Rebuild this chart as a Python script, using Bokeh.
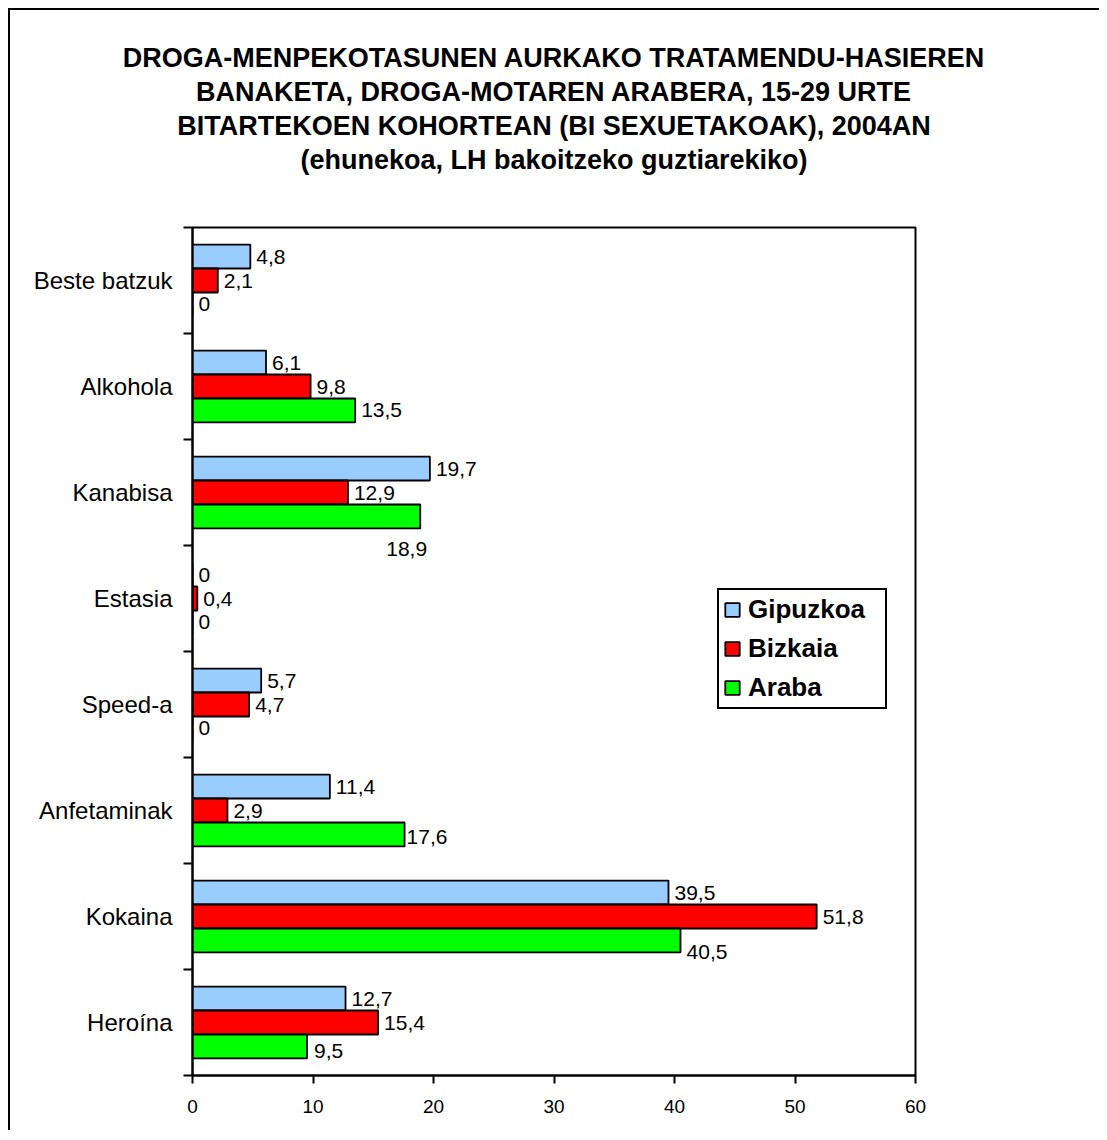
from bokeh.plotting import figure
from bokeh.models import (Range1d, FixedTicker, LinearAxis, Legend, LegendItem,
                          ColumnDataSource, Title)
from bokeh.core.properties import value
from bokeh.embed import file_html
from bokeh.resources import INLINE

# ---------------- data ----------------
categories = ["Beste batzuk", "Alkohola", "Kanabisa", "Estasia",
              "Speed-a", "Anfetaminak", "Kokaina", "Heroína"]
series = ["Gipuzkoa", "Bizkaia", "Araba"]
gipuzkoa = [4.8, 6.1, 19.7, 0, 5.7, 11.4, 39.5, 12.7]
bizkaia = [2.1, 9.8, 12.9, 0.4, 4.7, 2.9, 51.8, 15.4]
araba = [0, 13.5, 18.9, 0, 0, 17.6, 40.5, 9.5]
x_ticks = [0, 10, 20, 30, 40, 50, 60]
title_lines = [
    "DROGA-MENPEKOTASUNEN AURKAKO TRATAMENDU-HASIEREN",
    "BANAKETA, DROGA-MOTAREN ARABERA, 15-29 URTE",
    "BITARTEKOEN KOHORTEAN (BI SEXUETAKOAK), 2004AN",
    "(ehunekoa, LH bakoitzeko guztiarekiko)",
]

# ---------------- styles ----------------
colors = {"Gipuzkoa": "#99CCFF", "Bizkaia": "#FF0000", "Araba": "#00FF00"}
bar_h = 0.226
slot = {"Gipuzkoa": 1, "Bizkaia": 0, "Araba": -1}
label_shift = {("Kanabisa", "Araba"): (-34, 33),
               ("Kokaina", "Araba"): (6, 12),
               ("Heroína", "Araba"): (7, 5),
               ("Anfetaminak", "Araba"): (2, 3)}
FONT = "Liberation Sans"

n = len(categories)
centers = [n - i - 0.5 for i in range(n)]

p = figure(width=1089, height=1122, output_backend="svg", toolbar_location=None,
           x_range=Range1d(0, 60), y_range=Range1d(0, n),
           frame_width=723, frame_height=848,
           min_border_left=182, min_border_top=217, min_border_right=184,
           min_border_bottom=55, x_axis_type=None, y_axis_type=None,
           background_fill_color="white", border_fill_color="white",
           styles={"border-left": "2px solid #000", "border-top": "2px solid #000",
                   "margin-left": "8px", "margin-top": "8px"})
p.outline_line_color = "black"
p.outline_line_width = 2

# spacer between the plot area and the title block
p.add_layout(Title(text=" ", text_font=FONT, text_font_size="27px",
                   standoff=20), "above")
# title: one centred Title per line, nearest line added first
for line in reversed(title_lines):
    t = Title(text=line, align="center", text_font=FONT, text_font_size="27px",
              text_font_style="bold", text_color="black", standoff=2)
    p.add_layout(t, "above")

# x axis
xa = LinearAxis(ticker=FixedTicker(ticks=x_ticks))
xa.axis_line_width = 2
xa.axis_line_color = "black"
xa.major_tick_out = 8
xa.major_tick_in = 0
xa.major_tick_line_width = 2
xa.major_tick_line_color = "black"
xa.minor_tick_line_color = None
xa.major_label_text_font = FONT
xa.major_label_text_font_size = "19px"
xa.major_label_text_color = "black"
xa.major_label_standoff = 16
p.add_layout(xa, "below")

# y axis (labels at centres, ticks at category boundaries)
ya = LinearAxis(ticker=FixedTicker(ticks=centers, minor_ticks=list(range(n + 1))))
ya.major_label_overrides = {c: name for c, name in zip(centers, categories)}
ya.axis_line_width = 2
ya.axis_line_color = "black"
ya.major_tick_out = 0
ya.major_tick_in = 0
ya.major_tick_line_color = None
ya.minor_tick_out = 9
ya.minor_tick_in = 0
ya.minor_tick_line_width = 2
ya.minor_tick_line_color = "black"
ya.major_label_text_font = FONT
ya.major_label_text_font_size = "24px"
ya.major_label_text_color = "black"
ya.major_label_standoff = 11
p.add_layout(ya, "left")

# grid
p.xgrid.ticker = FixedTicker(ticks=x_ticks)
p.xgrid.grid_line_color = "black"
p.xgrid.grid_line_width = 2
p.xgrid.grid_line_alpha = 1
p.ygrid.grid_line_color = None

vals = {"Gipuzkoa": gipuzkoa, "Bizkaia": bizkaia, "Araba": araba}
items = []
for s in series:
    ys = [c + slot[s] * bar_h for c in centers]
    src = ColumnDataSource(dict(y=ys, right=vals[s]))
    r = p.hbar(y="y", left=0, right="right", height=bar_h, source=src,
               fill_color=colors[s], line_color="black", line_width=1.8)
    items.append(LegendItem(label=s, renderers=[r]))
    labels = [f"{v:g}".replace(".", ",") for v in vals[s]]
    xo = [label_shift.get((c, s), (6, 0))[0] for c in categories]
    yo = [label_shift.get((c, s), (6, 0))[1] for c in categories]
    lsrc = ColumnDataSource(dict(x=vals[s], y=ys, text=labels, xo=xo, yo=yo))
    p.text(x="x", y="y", text="text", source=lsrc, x_offset="xo", y_offset="yo",
           text_font=value(FONT), text_font_size="21px", text_color="black",
           text_align="left", text_baseline="middle")

legend = Legend(items=items, location=(525, 366), orientation="vertical")
legend.label_text_font = FONT
legend.label_text_font_size = "26px"
legend.label_text_font_style = "bold"
legend.label_text_color = "black"
legend.glyph_width = 18
legend.glyph_height = 17
legend.label_height = 24
legend.label_width = 133
legend.spacing = 8
legend.padding = 4
legend.margin = 0
legend.label_standoff = 7
legend.border_line_color = "black"
legend.border_line_width = 2
legend.border_line_alpha = 1
legend.background_fill_color = "white"
legend.background_fill_alpha = 1
p.add_layout(legend, "center")

open("out.html", "w").write(file_html(p, INLINE))
